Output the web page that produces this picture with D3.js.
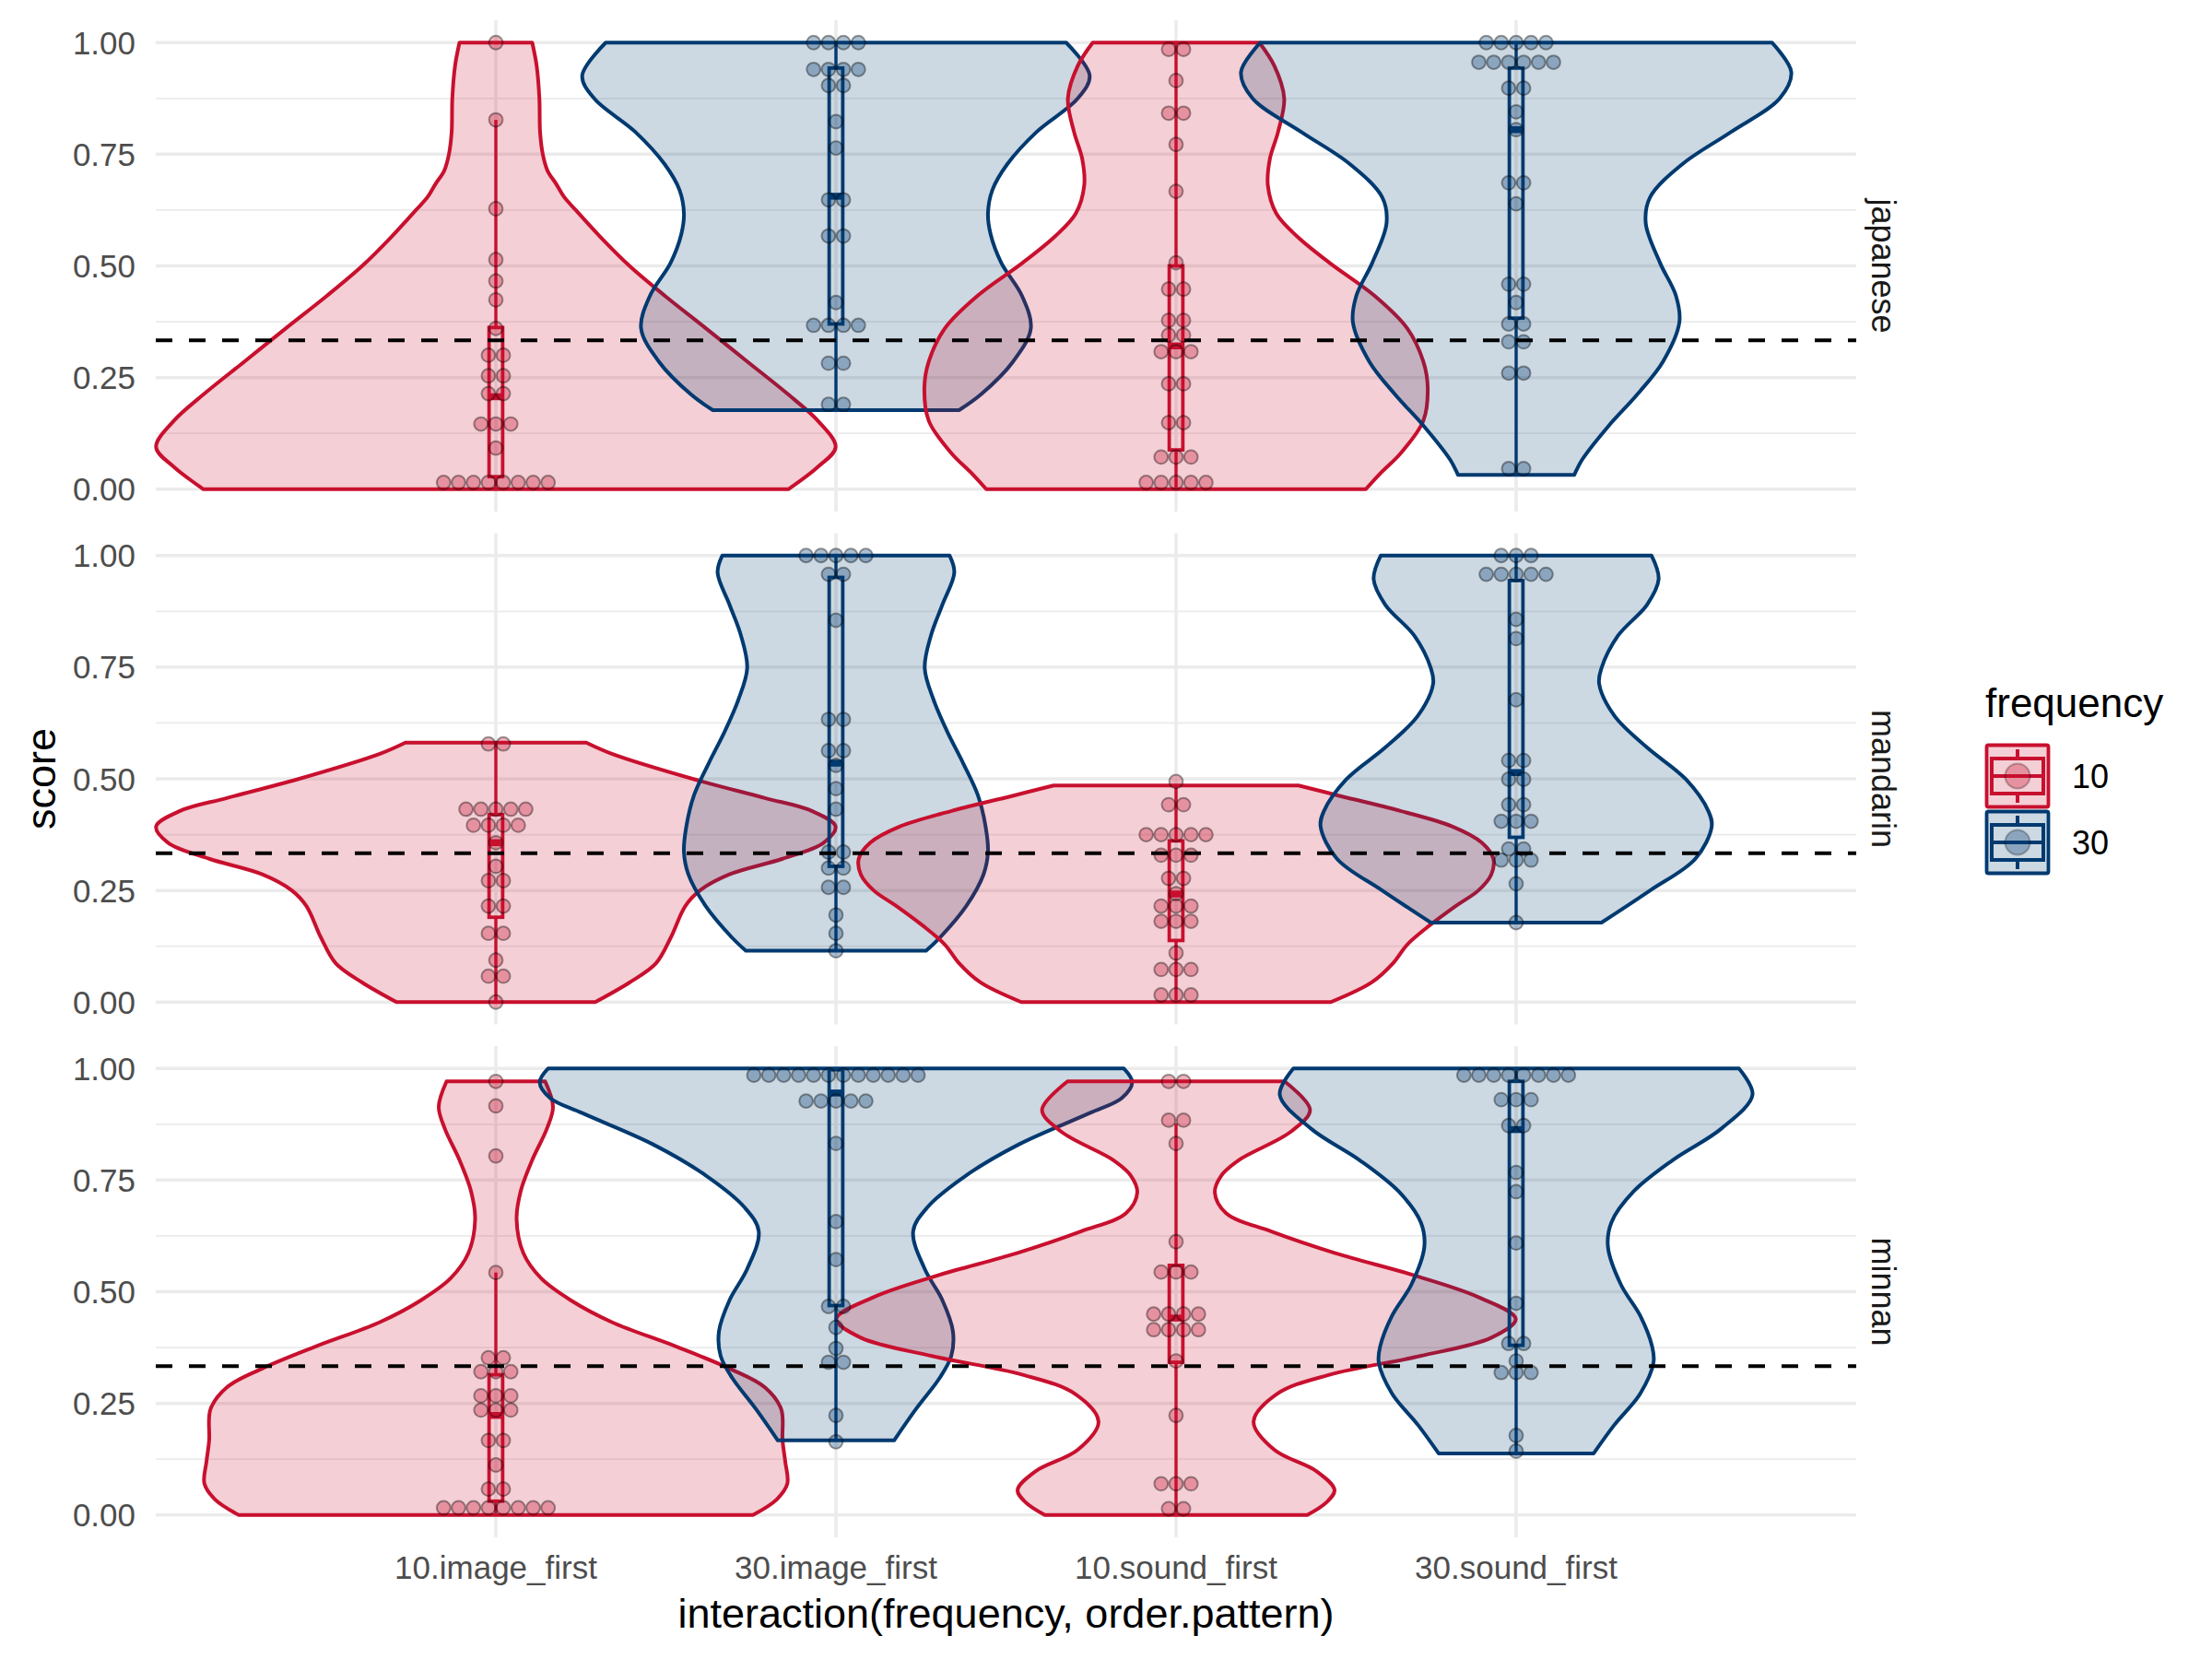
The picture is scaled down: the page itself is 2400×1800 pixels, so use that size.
<!DOCTYPE html>
<html><head><meta charset="utf-8">
<script src="https://cdn.jsdelivr.net/npm/d3@7"></script>
<style>body{margin:0;background:#fff}text{font-family:"Liberation Sans",Arial,Helvetica,sans-serif}</style>
</head><body>
<svg id="chart" width="2400" height="1800" xmlns="http://www.w3.org/2000/svg"></svg>
<script>
// ---------- data ----------
const categories = ["10.image_first", "30.image_first", "10.sound_first", "30.sound_first"];
const groupFrequency = ["10", "30", "10", "30"];
const panels = ["japanese", "mandarin", "minnan"];
const yTicks = [0, 0.25, 0.5, 0.75, 1];
const yTickLabels = ["0.00", "0.25", "0.50", "0.75", "1.00"];
const yMinorTicks = [0.125, 0.375, 0.625, 0.875];
const chanceLevel = 1 / 3;
const legendLevels = ["10", "30"];

// violin outlines: [score, half-width in category units]
const violinJapanese10Image = [[0,0.86],[0.05,0.947],[0.094,0.999],[0.153,0.947],[0.212,0.86],[0.286,0.739],[0.36,0.618],[0.433,0.497],[0.5,0.393],[0.566,0.306],[0.625,0.235],[0.655,0.2],[0.684,0.177],[0.713,0.152],[0.75,0.138],[0.8,0.13],[0.875,0.128],[0.948,0.12],[1,0.107]];
const violinJapanese30Image = [[0.177,0.362],[0.212,0.426],[0.286,0.521],[0.36,0.573],[0.433,0.547],[0.507,0.486],[0.57,0.455],[0.617,0.447],[0.67,0.46],[0.728,0.504],[0.8,0.59],[0.875,0.711],[0.926,0.746],[1,0.677]];
const violinJapanese10Sound = [[0,0.558],[0.035,0.6],[0.08,0.66],[0.153,0.727],[0.227,0.74],[0.286,0.727],[0.36,0.68],[0.433,0.584],[0.507,0.451],[0.566,0.356],[0.617,0.295],[0.68,0.27],[0.74,0.276],[0.8,0.3],[0.875,0.318],[0.948,0.289],[1,0.245]];
const violinJapanese30Sound = [[0.032,0.171],[0.066,0.194],[0.14,0.27],[0.212,0.356],[0.286,0.432],[0.374,0.48],[0.433,0.47],[0.507,0.423],[0.596,0.381],[0.654,0.394],[0.728,0.489],[0.8,0.632],[0.875,0.775],[0.934,0.809],[1,0.752]];

const violinMandarin10Image = [[0,0.292],[0.044,0.393],[0.087,0.471],[0.144,0.514],[0.215,0.557],[0.25,0.6],[0.286,0.687],[0.321,0.843],[0.357,0.964],[0.393,0.999],[0.428,0.929],[0.457,0.791],[0.499,0.583],[0.556,0.341],[0.581,0.266]];
const violinMandarin30Image = [[0.115,0.265],[0.144,0.305],[0.215,0.383],[0.286,0.434],[0.336,0.447],[0.393,0.44],[0.464,0.417],[0.535,0.374],[0.606,0.327],[0.677,0.287],[0.748,0.261],[0.82,0.279],[0.89,0.313],[0.962,0.348],[1,0.334]];
const violinMandarin10Sound = [[0,0.455],[0.044,0.575],[0.087,0.638],[0.129,0.68],[0.172,0.746],[0.215,0.822],[0.25,0.889],[0.286,0.927],[0.321,0.933],[0.357,0.899],[0.393,0.813],[0.428,0.66],[0.464,0.47],[0.485,0.36]];
const violinMandarin30Sound = [[0.178,0.251],[0.25,0.394],[0.321,0.527],[0.393,0.575],[0.428,0.565],[0.499,0.499],[0.57,0.385],[0.641,0.289],[0.713,0.244],[0.748,0.251],[0.82,0.299],[0.89,0.385],[0.947,0.419],[1,0.398]];

const violinMinnan10Image = [[0,0.756],[0.035,0.826],[0.07,0.857],[0.119,0.851],[0.167,0.843],[0.237,0.839],[0.286,0.791],[0.328,0.687],[0.377,0.531],[0.432,0.341],[0.481,0.22],[0.53,0.133],[0.586,0.081],[0.662,0.061],[0.725,0.073],[0.795,0.107],[0.865,0.15],[0.914,0.168],[0.971,0.145]];
const violinMinnan30Image = [[0.167,0.171],[0.237,0.235],[0.307,0.305],[0.356,0.339],[0.411,0.344],[0.481,0.313],[0.551,0.261],[0.635,0.227],[0.69,0.27],[0.76,0.382],[0.83,0.538],[0.9,0.746],[0.934,0.841],[0.969,0.871],[1,0.846]];
const violinMinnan10Sound = [[0,0.386],[0.028,0.442],[0.056,0.466],[0.098,0.413],[0.146,0.289],[0.209,0.228],[0.272,0.299],[0.314,0.451],[0.356,0.718],[0.397,0.927],[0.439,0.999],[0.488,0.889],[0.537,0.699],[0.586,0.47],[0.635,0.28],[0.676,0.147],[0.722,0.114],[0.76,0.133],[0.795,0.185],[0.858,0.337],[0.907,0.394],[0.971,0.319]];
const violinMinnan30Sound = [[0.138,0.228],[0.202,0.289],[0.272,0.365],[0.342,0.404],[0.377,0.4],[0.446,0.365],[0.516,0.308],[0.6,0.27],[0.655,0.28],[0.725,0.346],[0.795,0.461],[0.865,0.603],[0.941,0.695],[1,0.655]];

// dot rows: [score, number of dots]
const dotsJapanese10Image = [[1,1],[0.827,1],[0.628,1],[0.514,1],[0.466,1],[0.424,1],[0.36,1],[0.3,2],[0.254,2],[0.214,2],[0.146,3],[0.092,1],[0.015,8]];
const dotsJapanese30Image = [[1,4],[0.94,4],[0.904,2],[0.823,1],[0.764,1],[0.648,2],[0.567,2],[0.418,1],[0.367,4],[0.282,2],[0.19,2]];
const dotsJapanese10Sound = [[0.985,2],[0.915,1],[0.842,2],[0.772,1],[0.667,1],[0.507,1],[0.448,2],[0.378,2],[0.345,2],[0.308,3],[0.236,2],[0.149,2],[0.072,3],[0.015,5]];
const dotsJapanese30Sound = [[1,5],[0.956,6],[0.898,2],[0.845,1],[0.805,1],[0.686,2],[0.639,1],[0.459,2],[0.418,1],[0.37,2],[0.33,2],[0.26,2],[0.046,2]];

const dotsMandarin10Image = [[0.578,2],[0.432,5],[0.396,4],[0.357,1],[0.304,1],[0.272,2],[0.215,2],[0.154,2],[0.094,1],[0.058,2],[0,1]];
const dotsMandarin30Image = [[1,5],[0.958,2],[0.855,1],[0.633,2],[0.563,2],[0.53,1],[0.478,1],[0.432,1],[0.336,2],[0.3,2],[0.257,2],[0.195,1],[0.154,1],[0.115,1]];
const dotsMandarin10Sound = [[0.494,1],[0.442,2],[0.375,5],[0.329,3],[0.277,2],[0.243,1],[0.215,3],[0.181,3],[0.11,1],[0.073,3],[0.016,3]];
const dotsMandarin30Sound = [[1,3],[0.958,5],[0.857,1],[0.814,1],[0.677,1],[0.541,2],[0.499,2],[0.442,2],[0.405,3],[0.343,2],[0.318,3],[0.265,1],[0.178,1]];

const dotsMinnan10Image = [[0.971,1],[0.916,1],[0.804,1],[0.543,1],[0.352,2],[0.321,3],[0.267,3],[0.235,3],[0.167,2],[0.112,1],[0.058,2],[0.016,8]];
const dotsMinnan30Image = [[0.985,12],[0.927,5],[0.832,1],[0.657,1],[0.572,1],[0.467,2],[0.42,1],[0.373,1],[0.342,2],[0.223,1],[0.164,1]];
const dotsMinnan10Sound = [[0.971,2],[0.884,2],[0.832,1],[0.612,1],[0.544,3],[0.45,4],[0.415,4],[0.345,1],[0.223,1],[0.07,3],[0.014,2]];
const dotsMinnan30Sound = [[0.985,8],[0.93,3],[0.872,2],[0.767,1],[0.724,1],[0.609,1],[0.474,1],[0.384,2],[0.345,1],[0.319,3],[0.178,1],[0.143,1]];

// boxplots: [lower whisker, Q1, median, Q3, upper whisker]
const boxJapanese = [[0,0.028,0.207,0.362,0.827],[0.177,0.37,0.656,0.943,1],[0,0.088,0.321,0.5,1],[0.032,0.383,0.805,0.943,1]];
const boxMandarin = [[0,0.19,0.357,0.42,0.581],[0.115,0.304,0.535,0.951,1],[0,0.138,0.242,0.361,0.485],[0.178,0.369,0.514,0.944,1]];
const boxMinnan = [[0,0.031,0.223,0.314,0.543],[0.167,0.469,0.945,0.997,1],[0,0.342,0.441,0.559,0.877],[0.138,0.38,0.863,0.971,1]];

// ---------- assembled tables ----------
const violinTable = {
  japanese: [violinJapanese10Image, violinJapanese30Image, violinJapanese10Sound, violinJapanese30Sound],
  mandarin: [violinMandarin10Image, violinMandarin30Image, violinMandarin10Sound, violinMandarin30Sound],
  minnan: [violinMinnan10Image, violinMinnan30Image, violinMinnan10Sound, violinMinnan30Sound]
};
const dotTable = {
  japanese: [dotsJapanese10Image, dotsJapanese30Image, dotsJapanese10Sound, dotsJapanese30Sound],
  mandarin: [dotsMandarin10Image, dotsMandarin30Image, dotsMandarin10Sound, dotsMandarin30Sound],
  minnan: [dotsMinnan10Image, dotsMinnan30Image, dotsMinnan10Sound, dotsMinnan30Sound]
};
const boxTable = { japanese: boxJapanese, mandarin: boxMandarin, minnan: boxMinnan };

// ---------- styling ----------
const lineColor = d3.scaleOrdinal().domain(legendLevels).range(["#C8102E", "#003A70"]);
const fillAlpha = 0.2;
const fillColor = f => { const c = d3.color(lineColor(f)); c.opacity = fillAlpha; return c + ""; };
const dotFill = f => { const c = d3.color(lineColor(f)); c.opacity = 0.32; return c + ""; };

const svg = d3.select("#chart");
svg.append("rect").attr("width", 2400).attr("height", 1800).attr("fill", "#fff");

// continuous scale in category units (category i centred at i+1), discrete range expanded as in the figure
const xu = d3.scaleLinear().domain([0, 5]).range([169, 2014]);
const catX = c => xu(categories.indexOf(c) + 1);

const panelTop0 = 22, panelH = 533, panelGap = 23.5;
const dotStep = 16.2, dotR = 7.4, boxHalf = 0.02;

panels.forEach((p, pi) => {
  const top = panelTop0 + pi * (panelH + panelGap);
  const y = d3.scaleLinear().domain([-0.05, 1.05]).range([top + panelH, top]);
  const g = svg.append("g");

  // grid
  g.selectAll(".minor").data(yMinorTicks).join("line")
    .attr("x1", xu(0)).attr("x2", xu(5)).attr("y1", d => y(d)).attr("y2", d => y(d))
    .attr("stroke", "#EBEBEB").attr("stroke-width", 1.8);
  g.selectAll(".major").data(yTicks).join("line")
    .attr("x1", xu(0)).attr("x2", xu(5)).attr("y1", d => y(d)).attr("y2", d => y(d))
    .attr("stroke", "#EBEBEB").attr("stroke-width", 3.5);
  g.selectAll(".vmajor").data(categories).join("line")
    .attr("x1", d => catX(d)).attr("x2", d => catX(d)).attr("y1", top).attr("y2", top + panelH)
    .attr("stroke", "#EBEBEB").attr("stroke-width", 3.5);

  // y axis labels
  g.selectAll(".ytl").data(yTicks).join("text")
    .attr("x", 147).attr("y", d => y(d)).attr("dy", "0.36em")
    .attr("text-anchor", "end").attr("font-size", 35).attr("fill", "#4D4D4D")
    .text((d, i) => yTickLabels[i]);

  // violins
  categories.forEach((c, ci) => {
    const cu = ci + 1, f = groupFrequency[ci];
    const area = d3.area().curve(d3.curveCatmullRom.alpha(0.5))
      .y(d => y(d[0])).x0(d => xu(cu - d[1])).x1(d => xu(cu + d[1]));
    g.append("path").attr("d", area(violinTable[p][ci]))
      .attr("fill", fillColor(f)).attr("stroke", lineColor(f))
      .attr("stroke-width", 4).attr("stroke-linejoin", "round");
  });

  // boxplots
  categories.forEach((c, ci) => {
    const cu = ci + 1, f = groupFrequency[ci], b = boxTable[p][ci];
    const col = lineColor(f);
    const bg = g.append("g");
    bg.append("line").attr("x1", xu(cu)).attr("x2", xu(cu)).attr("y1", y(b[0])).attr("y2", y(b[1]))
      .attr("stroke", col).attr("stroke-width", 3.4);
    bg.append("line").attr("x1", xu(cu)).attr("x2", xu(cu)).attr("y1", y(b[3])).attr("y2", y(b[4]))
      .attr("stroke", col).attr("stroke-width", 3.4);
    bg.append("rect").attr("x", xu(cu - boxHalf)).attr("width", xu(cu + boxHalf) - xu(cu - boxHalf))
      .attr("y", y(b[3])).attr("height", y(b[1]) - y(b[3]))
      .attr("fill", "none").attr("stroke", col).attr("stroke-width", 3.8);
    bg.append("line").attr("x1", xu(cu - boxHalf)).attr("x2", xu(cu + boxHalf)).attr("y1", y(b[2])).attr("y2", y(b[2]))
      .attr("stroke", col).attr("stroke-width", 7.5);
  });

  // dots
  categories.forEach((c, ci) => {
    const cu = ci + 1, f = groupFrequency[ci];
    const pts = [];
    dotTable[p][ci].forEach(([v, n]) => {
      for (let k = 0; k < n; k++) pts.push({ v, off: (k - (n - 1) / 2) });
    });
    g.selectAll(null).data(pts).join("circle")
      .attr("cx", d => xu(cu) + d.off * dotStep).attr("cy", d => y(d.v)).attr("r", dotR)
      .attr("fill", dotFill(f)).attr("stroke", "rgba(0,0,0,0.38)").attr("stroke-width", 2);
  });

  // chance line
  g.append("line").attr("x1", xu(0)).attr("x2", xu(5)).attr("y1", y(chanceLevel)).attr("y2", y(chanceLevel))
    .attr("stroke", "#000").attr("stroke-width", 3.8).attr("stroke-dasharray", "18,18");

  // strip label
  g.append("text").attr("transform", `translate(2031,${y(0.5)}) rotate(90)`)
    .attr("text-anchor", "middle").attr("font-size", 36).attr("fill", "#1A1A1A").text(p);
});

// x axis tick labels
svg.selectAll(".xtl").data(categories).join("text")
  .attr("x", d => catX(d)).attr("y", 1713).attr("text-anchor", "middle")
  .attr("font-size", 35).attr("fill", "#4D4D4D").text(d => d);

// axis titles
svg.append("text").attr("x", xu(2.5)).attr("y", 1766).attr("text-anchor", "middle")
  .attr("font-size", 45).attr("fill", "#000").text("interaction(frequency, order.pattern)");
svg.append("text").attr("transform", `translate(60,845) rotate(-90)`).attr("text-anchor", "middle")
  .attr("font-size", 45).attr("fill", "#000").text("score");

// legend
const lg = svg.append("g");
lg.append("text").attr("x", 2154).attr("y", 778).attr("font-size", 44).attr("fill", "#000").text("frequency");
legendLevels.forEach((lv, i) => {
  const kx = 2154, ky = 807 + i * 72, ks = 70;
  const col = lineColor(lv);
  lg.append("rect").attr("x", kx + 1.5).attr("y", ky + 1.5).attr("width", ks - 3).attr("height", ks - 3)
    .attr("fill", fillColor(lv)).attr("stroke", col).attr("stroke-width", 3.8).attr("rx", 2);
  const cx = kx + ks / 2, cy = ky + ks / 2;
  lg.append("line").attr("x1", cx).attr("x2", cx).attr("y1", ky + 6).attr("y2", ky + 16).attr("stroke", col).attr("stroke-width", 4);
  lg.append("line").attr("x1", cx).attr("x2", cx).attr("y1", ky + 54).attr("y2", ky + 64).attr("stroke", col).attr("stroke-width", 4);
  lg.append("rect").attr("x", kx + 7).attr("y", ky + 16).attr("width", ks - 14).attr("height", 38)
    .attr("fill", "none").attr("stroke", col).attr("stroke-width", 4);
  lg.append("line").attr("x1", kx + 7).attr("x2", kx + ks - 7).attr("y1", cy).attr("y2", cy).attr("stroke", col).attr("stroke-width", 4);
  lg.append("circle").attr("cx", cx).attr("cy", cy).attr("r", 13.5)
    .attr("fill", dotFill(lv)).attr("stroke", "rgba(0,0,0,0.25)").attr("stroke-width", 2);
  lg.append("text").attr("x", 2248).attr("y", cy + 13).attr("font-size", 36).attr("fill", "#000").text(lv);
});
</script>
</body></html>
